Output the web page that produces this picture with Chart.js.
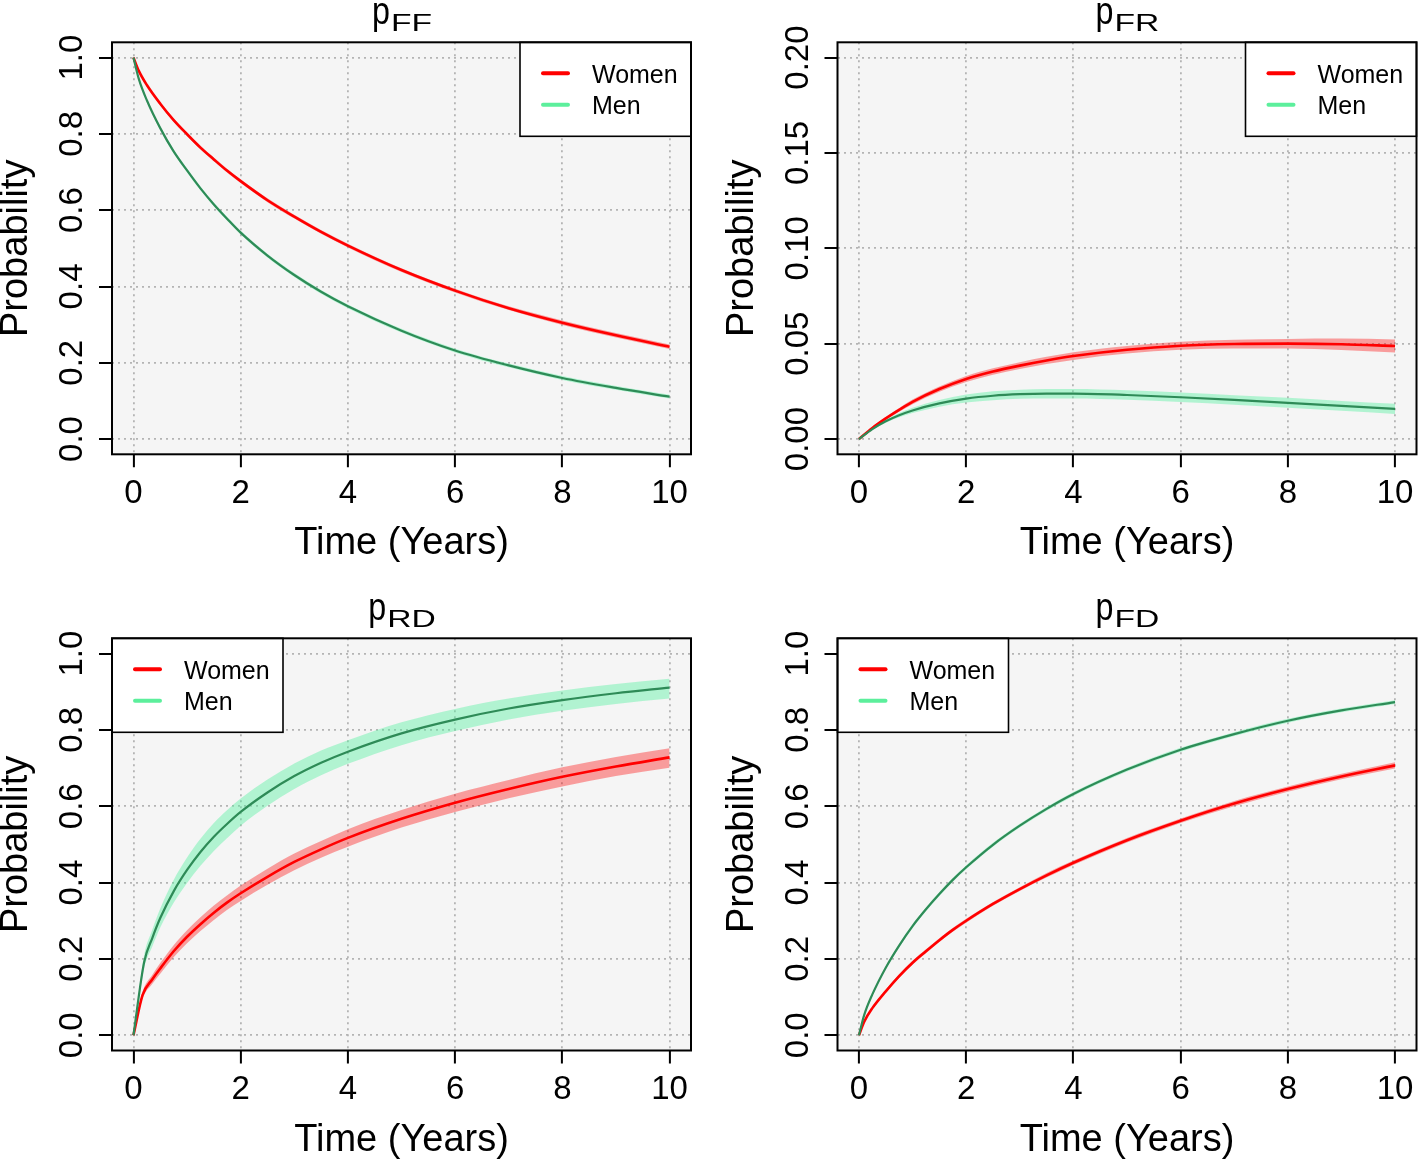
<!DOCTYPE html>
<html>
<head>
<meta charset="utf-8">
<script src="https://cdn.jsdelivr.net/npm/chart.js@4.4.0/dist/chart.umd.min.js"></script>
<style>
html,body{margin:0;padding:0;background:#ffffff;}
#wrap{position:relative;width:1418px;height:1159px;overflow:hidden;}
canvas{position:absolute;display:block;}
</style>
</head>
<body>
<div id="wrap">
<canvas id="cFF" width="709" height="580" style="left:0;top:0"></canvas>
<canvas id="cFR" width="709" height="580" style="left:709px;top:0"></canvas>
<canvas id="cRD" width="709" height="579" style="left:0;top:580px"></canvas>
<canvas id="cFD" width="709" height="579" style="left:709px;top:580px"></canvas>
</div>
<script>
// ---------------- data ----------------
const seriesNames = ['Women', 'Men'];
const xTicks = [0, 2, 4, 6, 8, 10];
const xTickLabels = ['0', '2', '4', '6', '8', '10'];
const probTicks = [0, 0.2, 0.4, 0.6, 0.8, 1.0];
const probTickLabels = ['0.0', '0.2', '0.4', '0.6', '0.8', '1.0'];
const frTicks = [0, 0.05, 0.10, 0.15, 0.20];
const frTickLabels = ['0.00', '0.05', '0.10', '0.15', '0.20'];

// p_FF
const ffTime    = [0, 0.1, 0.25, 0.5, 0.75, 1, 1.25, 1.5, 1.75, 2, 2.5, 3, 3.5, 4, 5, 6, 7, 8, 9, 10];
const ffWomen   = [1, 0.965, 0.928, 0.879, 0.836, 0.799, 0.764, 0.733, 0.703, 0.676, 0.626, 0.583, 0.543, 0.507, 0.443, 0.389, 0.343, 0.305, 0.272, 0.242];
const ffWomenLo = [1, 0.963, 0.925, 0.875, 0.832, 0.795, 0.759, 0.728, 0.698, 0.671, 0.621, 0.578, 0.538, 0.502, 0.438, 0.384, 0.338, 0.299, 0.266, 0.236];
const ffWomenHi = [1, 0.967, 0.931, 0.883, 0.840, 0.803, 0.769, 0.738, 0.708, 0.681, 0.631, 0.588, 0.548, 0.512, 0.448, 0.394, 0.348, 0.311, 0.278, 0.248];
const ffMen     = [1, 0.944, 0.888, 0.815, 0.754, 0.704, 0.657, 0.615, 0.577, 0.541, 0.481, 0.430, 0.386, 0.348, 0.284, 0.232, 0.193, 0.160, 0.134, 0.111];
const ffMenLo   = [1, 0.942, 0.885, 0.811, 0.749, 0.699, 0.652, 0.610, 0.572, 0.536, 0.476, 0.425, 0.381, 0.343, 0.279, 0.227, 0.188, 0.155, 0.129, 0.106];
const ffMenHi   = [1, 0.946, 0.891, 0.819, 0.759, 0.709, 0.662, 0.620, 0.582, 0.546, 0.486, 0.435, 0.391, 0.353, 0.289, 0.237, 0.198, 0.165, 0.139, 0.116];

// p_FR
const frTime    = [0, 0.25, 0.5, 0.75, 1, 1.5, 2, 2.5, 3, 3.5, 4, 5, 6, 7, 8, 9, 10];
const frWomen   = [0, 0.0058, 0.0108, 0.0153, 0.0195, 0.0262, 0.0315, 0.0354, 0.0385, 0.0412, 0.0435, 0.0468, 0.0489, 0.0498, 0.0500, 0.0497, 0.0488];
const frWomenLo = [0, 0.0054, 0.0100, 0.0143, 0.0183, 0.0248, 0.0299, 0.0337, 0.0367, 0.0393, 0.0415, 0.0448, 0.0468, 0.0475, 0.0475, 0.0467, 0.0454];
const frWomenHi = [0, 0.0062, 0.0116, 0.0163, 0.0207, 0.0276, 0.0331, 0.0371, 0.0403, 0.0431, 0.0455, 0.0488, 0.0510, 0.0521, 0.0525, 0.0527, 0.0522];
const frMen     = [0, 0.0052, 0.0093, 0.0125, 0.0150, 0.0187, 0.0212, 0.0227, 0.0235, 0.0238, 0.0238, 0.0231, 0.0219, 0.0205, 0.0190, 0.0174, 0.0158];
const frMenLo   = [0, 0.0048, 0.0085, 0.0114, 0.0136, 0.0169, 0.0191, 0.0204, 0.0211, 0.0213, 0.0213, 0.0206, 0.0194, 0.0180, 0.0164, 0.0148, 0.0131];
const frMenHi   = [0, 0.0056, 0.0101, 0.0136, 0.0164, 0.0205, 0.0233, 0.0250, 0.0259, 0.0263, 0.0263, 0.0256, 0.0244, 0.0230, 0.0216, 0.0200, 0.0185];

// p_RD
const rdTimeWomen = [0, 0.17, 0.35, 0.5, 0.75, 1, 1.25, 1.5, 1.75, 2, 2.5, 3, 3.5, 4, 5, 6, 7, 8, 9, 10];
const rdWomen     = [0, 0.105, 0.146, 0.175, 0.220, 0.258, 0.291, 0.321, 0.348, 0.372, 0.415, 0.454, 0.487, 0.517, 0.567, 0.609, 0.645, 0.677, 0.704, 0.728];
const rdWomenLo   = [0, 0.096, 0.134, 0.161, 0.204, 0.241, 0.273, 0.302, 0.329, 0.352, 0.394, 0.432, 0.465, 0.494, 0.544, 0.585, 0.621, 0.652, 0.679, 0.701];
const rdWomenHi   = [0, 0.114, 0.158, 0.189, 0.236, 0.275, 0.309, 0.340, 0.367, 0.392, 0.436, 0.476, 0.509, 0.540, 0.590, 0.633, 0.669, 0.702, 0.729, 0.752];
const rdTimeMen   = [0, 0.2, 0.35, 0.5, 0.75, 1, 1.25, 1.5, 1.75, 2, 2.5, 3, 3.5, 4, 5, 6, 7, 8, 9, 10];
const rdMen       = [0, 0.192, 0.254, 0.307, 0.377, 0.433, 0.480, 0.520, 0.554, 0.585, 0.636, 0.679, 0.714, 0.743, 0.791, 0.827, 0.856, 0.878, 0.896, 0.911];
const rdMenLo     = [0, 0.176, 0.232, 0.282, 0.347, 0.399, 0.444, 0.483, 0.517, 0.549, 0.601, 0.645, 0.681, 0.711, 0.760, 0.797, 0.827, 0.850, 0.868, 0.882];
const rdMenHi     = [0, 0.210, 0.276, 0.332, 0.407, 0.466, 0.515, 0.556, 0.590, 0.620, 0.670, 0.712, 0.746, 0.773, 0.820, 0.855, 0.882, 0.903, 0.920, 0.934];

// p_FD
const fdTime    = [0, 0.1, 0.25, 0.5, 0.75, 1, 1.25, 1.5, 1.75, 2, 2.5, 3, 3.5, 4, 5, 6, 7, 8, 9, 10];
const fdWomen   = [0, 0.036, 0.071, 0.115, 0.155, 0.190, 0.220, 0.249, 0.276, 0.300, 0.344, 0.383, 0.419, 0.452, 0.511, 0.562, 0.607, 0.645, 0.678, 0.707];
const fdWomenLo = [0, 0.034, 0.068, 0.111, 0.150, 0.185, 0.215, 0.244, 0.271, 0.295, 0.339, 0.378, 0.413, 0.446, 0.505, 0.556, 0.600, 0.638, 0.671, 0.699];
const fdWomenHi = [0, 0.038, 0.074, 0.119, 0.160, 0.195, 0.225, 0.254, 0.281, 0.305, 0.349, 0.388, 0.425, 0.458, 0.517, 0.568, 0.614, 0.652, 0.685, 0.715];
const fdMen     = [0, 0.054, 0.107, 0.177, 0.235, 0.286, 0.330, 0.370, 0.407, 0.440, 0.499, 0.549, 0.593, 0.632, 0.696, 0.748, 0.789, 0.824, 0.851, 0.873];
const fdMenLo   = [0, 0.052, 0.104, 0.173, 0.230, 0.281, 0.325, 0.365, 0.402, 0.435, 0.494, 0.544, 0.588, 0.627, 0.691, 0.743, 0.784, 0.819, 0.846, 0.868];
const fdMenHi   = [0, 0.056, 0.110, 0.181, 0.240, 0.291, 0.335, 0.375, 0.412, 0.445, 0.504, 0.554, 0.598, 0.637, 0.701, 0.753, 0.794, 0.829, 0.856, 0.878];

// ---------------- styling ----------------
const FONT = '"Liberation Sans", Arial, Helvetica, sans-serif';
const WOMEN_LINE = '#ff0000';
const MEN_LINE = '#2e8b57';
const WOMEN_BAND = 'rgba(255,0,0,0.36)';
const MEN_BAND = 'rgba(84,240,160,0.42)';
const WOMEN_KEY = '#ff0000';
const MEN_KEY = '#5cef9c';

const panels = [
  { id: 'cFF', sub: 'FF', box: { l: 112, t: 42.3, r: 691, b: 454.3 }, yMin: -0.04, yMax: 1.04,
    yTicks: probTicks, yLabels: probTickLabels, legend: 'right',
    women: { t: ffTime, m: ffWomen, lo: ffWomenLo, hi: ffWomenHi },
    men: { t: ffTime, m: ffMen, lo: ffMenLo, hi: ffMenHi } },
  { id: 'cFR', sub: 'FR', box: { l: 128.5, t: 42.3, r: 707.5, b: 454.3 }, yMin: -0.008, yMax: 0.208,
    yTicks: frTicks, yLabels: frTickLabels, legend: 'right',
    women: { t: frTime, m: frWomen, lo: frWomenLo, hi: frWomenHi },
    men: { t: frTime, m: frMen, lo: frMenLo, hi: frMenHi } },
  { id: 'cRD', sub: 'RD', box: { l: 112, t: 58.3, r: 691, b: 470.5 }, yMin: -0.04, yMax: 1.04,
    yTicks: probTicks, yLabels: probTickLabels, legend: 'left',
    women: { t: rdTimeWomen, m: rdWomen, lo: rdWomenLo, hi: rdWomenHi },
    men: { t: rdTimeMen, m: rdMen, lo: rdMenLo, hi: rdMenHi } },
  { id: 'cFD', sub: 'FD', box: { l: 128.5, t: 58.3, r: 707.5, b: 470.5 }, yMin: -0.04, yMax: 1.04,
    yTicks: probTicks, yLabels: probTickLabels, legend: 'left',
    women: { t: fdTime, m: fdWomen, lo: fdWomenLo, hi: fdWomenHi },
    men: { t: fdTime, m: fdMen, lo: fdMenLo, hi: fdMenHi } }
];

const pts = (t, v) => t.map((x, i) => ({ x: x, y: v[i] }));

function makeDeco(p) {
  return {
    id: 'deco',
    beforeDraw(chart) {
      const a = chart.chartArea, ctx = chart.ctx;
      ctx.save();
      ctx.fillStyle = '#f5f5f5';
      ctx.fillRect(a.left, a.top, a.right - a.left, a.bottom - a.top);
      ctx.restore();
    },
    afterDraw(chart) {
      const a = chart.chartArea, ctx = chart.ctx;
      const xs = chart.scales.x, ys = chart.scales.y;
      ctx.save();
      ctx.fillStyle = '#000';
      // x tick labels
      ctx.font = '33px ' + FONT;
      ctx.textAlign = 'center';
      ctx.textBaseline = 'alphabetic';
      xTicks.forEach((v, i) => ctx.fillText(xTickLabels[i], xs.getPixelForValue(v), a.bottom + 48.4));
      // y tick labels (rotated, R default las=0)
      p.yTicks.forEach((v, i) => {
        ctx.save();
        ctx.translate(a.left - 30, ys.getPixelForValue(v));
        ctx.rotate(-Math.PI / 2);
        ctx.fillText(p.yLabels[i], 0, 0);
        ctx.restore();
      });
      // axis titles
      ctx.font = '38px ' + FONT;
      const cx = (a.left + a.right) / 2, cy = (a.top + a.bottom) / 2;
      ctx.fillText('Time (Years)', cx, a.bottom + 100);
      ctx.save();
      ctx.translate(a.left - 85, cy);
      ctx.rotate(-Math.PI / 2);
      ctx.fillText('Probability', 0, 0);
      ctx.restore();
      // main title p with subscript
      ctx.textAlign = 'left';
      const pFont = '38px ' + FONT, sFont = '24px ' + FONT;
      const pScale = 0.85, sScale = 1.4;
      ctx.font = pFont;
      const pw = ctx.measureText('p').width * pScale;
      ctx.font = sFont;
      const sw = ctx.measureText(p.sub).width * sScale;
      const x0 = cx - (pw + sw) / 2;
      ctx.save();
      ctx.font = pFont;
      ctx.translate(x0, a.top - 18.3);
      ctx.scale(pScale, 1);
      ctx.fillText('p', 0, 0);
      ctx.restore();
      ctx.save();
      ctx.font = sFont;
      ctx.translate(x0 + pw + 1, a.top - 11);
      ctx.scale(sScale, 1);
      ctx.fillText(p.sub, 0, 0);
      ctx.restore();
      // legend
      const lw = 171, lh = 94;
      const lx = p.legend === 'right' ? a.right - lw : a.left;
      const ly = a.top;
      ctx.fillStyle = '#ffffff';
      ctx.fillRect(lx, ly, lw, lh);
      ctx.strokeStyle = '#000';
      ctx.lineWidth = 1.6;
      ctx.strokeRect(lx, ly, lw, lh);
      const keyCols = [WOMEN_KEY, MEN_KEY];
      const rows = [31, 62.5];
      ctx.font = '25px ' + FONT;
      ctx.textAlign = 'left';
      ctx.textBaseline = 'alphabetic';
      seriesNames.forEach((name, i) => {
        const ry = ly + rows[i];
        ctx.strokeStyle = keyCols[i];
        ctx.lineWidth = 4;
        ctx.lineCap = 'round';
        ctx.beginPath();
        ctx.moveTo(lx + 23, ry);
        ctx.lineTo(lx + 48, ry);
        ctx.stroke();
        ctx.fillStyle = '#000';
        ctx.fillText(name, lx + 72, ry + 9.3);
      });
      // plot box
      ctx.strokeStyle = '#000';
      ctx.lineWidth = 2;
      ctx.lineCap = 'butt';
      ctx.strokeRect(a.left, a.top, a.right - a.left, a.bottom - a.top);
      ctx.restore();
    }
  };
}

panels.forEach(p => {
  const canvas = document.getElementById(p.id);
  const W = canvas.width, H = canvas.height;
  const common = { pointRadius: 0, pointHoverRadius: 0, cubicInterpolationMode: 'monotone', tension: 0.4 };
  const datasets = [
    Object.assign({ label: 'Men', data: pts(p.men.t, p.men.m), borderColor: MEN_LINE, borderWidth: 2.2, fill: false }, common),
    Object.assign({ label: 'Women', data: pts(p.women.t, p.women.m), borderColor: WOMEN_LINE, borderWidth: 2.6, fill: false }, common),
    Object.assign({ label: 'Men upper', data: pts(p.men.t, p.men.hi), borderColor: 'rgba(0,0,0,0)', borderWidth: 1, backgroundColor: MEN_BAND, fill: '+1' }, common),
    Object.assign({ label: 'Men lower', data: pts(p.men.t, p.men.lo), borderColor: 'rgba(0,0,0,0)', borderWidth: 1, fill: false }, common),
    Object.assign({ label: 'Women upper', data: pts(p.women.t, p.women.hi), borderColor: 'rgba(0,0,0,0)', borderWidth: 1, backgroundColor: WOMEN_BAND, fill: '+1' }, common),
    Object.assign({ label: 'Women lower', data: pts(p.women.t, p.women.lo), borderColor: 'rgba(0,0,0,0)', borderWidth: 1, fill: false }, common)
  ];
  const gridOpts = {
    color: '#b4b4b4', lineWidth: 1.8, drawOnChartArea: true, drawTicks: true,
    tickLength: 13, tickColor: '#000', tickWidth: 2, tickBorderDash: [1, 0]
  };
  new Chart(canvas, {
    type: 'line',
    data: { datasets: datasets },
    options: {
      responsive: false,
      animation: false,
      devicePixelRatio: 1,
      events: [],
      layout: { padding: { left: 0, top: p.box.t, right: W - p.box.r, bottom: 0 } },
      plugins: { legend: { display: false }, tooltip: { enabled: false }, title: { display: false } },
      scales: {
        x: {
          type: 'linear', position: 'bottom', min: -0.4, max: 10.4,
          afterBuildTicks: s => { s.ticks = xTicks.map(v => ({ value: v })); },
          afterFit: s => { s.height = H - p.box.b; },
          ticks: { display: false },
          grid: gridOpts,
          border: { display: false, dash: [2, 4] }
        },
        y: {
          type: 'linear', position: 'left', min: p.yMin, max: p.yMax,
          afterBuildTicks: s => { s.ticks = p.yTicks.map(v => ({ value: v })); },
          afterFit: s => { s.width = p.box.l; },
          ticks: { display: false },
          grid: gridOpts,
          border: { display: false, dash: [2, 4] }
        }
      }
    },
    plugins: [makeDeco(p)]
  });
});
</script>
</body>
</html>
